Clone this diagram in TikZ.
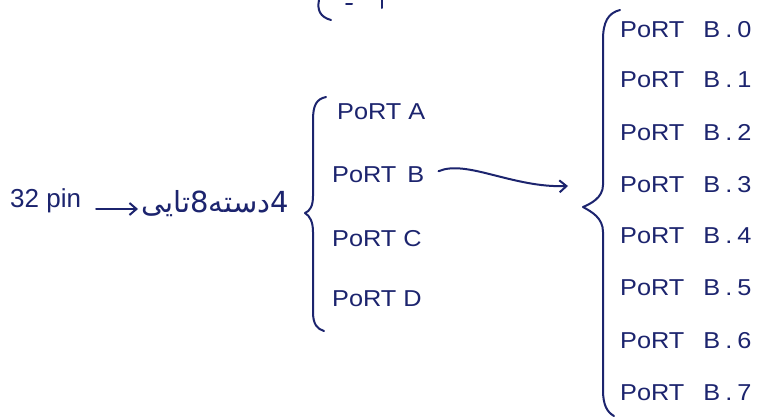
\documentclass[tikz,border=0pt]{standalone}
\usepackage{fontspec}
\setmainfont{Liberation Sans}
\newfontfamily\hand[FakeStretch=1.1]{Liberation Sans}
\newfontfamily\arabicfont[Script=Arabic]{DejaVu Sans}
\TeXXeTstate=1
\usetikzlibrary{arrows.meta}
\definecolor{ink}{RGB}{28,36,110}
\tikzset{
 inkline/.style={draw=ink, line width=2pt, line cap=round, line join=round},
 lbl/.style={text=ink, inner sep=0pt, anchor=base west, font=\hand\fontsize{23}{27}\selectfont},
 hook/.style={-{Straight Barb[length=7pt,width=12pt,line width=2pt]}}
}
\newcommand\pbx[1]{PoRT\hspace{12pt} B\hspace{5pt}.\hspace{5pt}#1}
\begin{document}
\begin{tikzpicture}[x=1pt,y=-1pt]
\useasboundingbox (0,0) rectangle (759,416);
\fill[white] (0,0) rectangle (759,416);

% left part
\node[lbl, font=\fontsize{26}{30}\selectfont] (pin) at (10,207) {32 pin};
\node[text=ink, inner sep=0pt, anchor=base, font=\arabicfont\fontsize{29}{32}\selectfont] (fa) at (215,212) {\beginR 4دسته8تایی\endR};
\draw[inkline, hook] ([xshift=15pt,yshift=-2pt]pin.base east) -- ([xshift=-3pt,yshift=-2pt]fa.west |- pin.base);

% top partial brace
\draw[inkline] (319,0) .. controls (317,10) and (320,17) .. (331,20);
\draw[inkline] (346,4) -- (352,4);
\draw[inkline] (382,0) -- (382,8);

% middle brace
\draw[inkline] (326,97) .. controls (316,99) and (313,106) .. (313,120) -- (313,196)
  .. controls (313,206) and (310,211) .. (305,213)
  .. controls (310,216) and (313,222) .. (313,232) -- (313,312)
  .. controls (313,324) and (317,329) .. (324,331);

\node[lbl] (pA) at (337,119) {PoRT A};
\node[lbl] (pB) at (332,182) {PoRT\hspace{4pt} B};
\node[lbl] (pC) at (332,246) {PoRT C};
\node[lbl] (pD) at (332,306) {PoRT D};

% curved arrow
\coordinate (bt) at (568,186);
\draw[inkline, hook] ([xshift=14pt,yshift=3pt]pB.east) .. controls +(28,-12) and +(-55,2) .. (bt);

% right brace
\draw[inkline] (620,10) .. controls (608,13) and (603,22) .. (603,40) -- (603,185)
  .. controls (603,198) and (590,204) .. (583,207)
  .. controls (592,212) and (603,218) .. (603,232) -- (603,390)
  .. controls (603,405) and (607,412) .. (614,416);

\foreach \i/\yy in {0/37,1/87,2/140,3/192,4/243,5/295,6/348,7/400}
  \node[lbl] (b\i) at (620,\yy) {\pbx{\i}};
\end{tikzpicture}
\end{document}
